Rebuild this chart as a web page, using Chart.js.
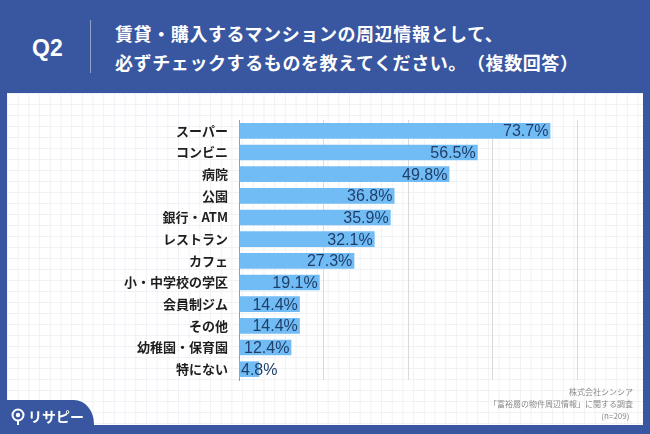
<!DOCTYPE html>
<html lang="ja">
<head>
<meta charset="utf-8">
<script src="https://cdn.jsdelivr.net/npm/chart.js@4/dist/chart.umd.min.js"></script>
<style>
  html, body { margin: 0; padding: 0; }
  body { width: 650px; height: 434px; position: relative; overflow: hidden; background: #3857a0; font-family: "Noto Sans CJK JP", sans-serif; }
  .card { position: absolute; left: 7px; top: 93px; width: 636px; height: 332px; background-color: #fff;
    background-image: linear-gradient(to right, #f0f1f4 1px, transparent 1px), linear-gradient(to bottom, #f0f1f4 1px, transparent 1px);
    background-size: 10.7px 11px; }
  .q { position: absolute; left: 32px; top: 35px; color: #fff; font: bold 23px "Liberation Sans", Arial, sans-serif; }
  .sep { position: absolute; left: 90px; top: 20px; width: 1px; height: 53px; background: #8f9fca; }
  .title { position: absolute; left: 115px; top: 19px; color: #fff; font-weight: bold; font-size: 18px; line-height: 29px;
    white-space: nowrap; letter-spacing: 0.6px; text-spacing-trim: space-all; }
  .tab { position: absolute; left: 0; top: 400px; width: 94px; height: 34px; background: #3857a0; border-top-right-radius: 20px 24px; }
  .logo { position: absolute; left: 11px; top: 406px; color: #fff; font-size: 14px; font-weight: bold; display: flex; align-items: center; gap: 3px; }
  .src { position: absolute; right: 17px; top: 386px; color: #8a8a8a; font-size: 8px; line-height: 12px; text-align: right; }
  canvas { position: absolute; left: 0; top: 0; }
</style>
</head>
<body>
<div class="card"></div>
<div class="q">Q2</div>
<div class="sep"></div>
<div class="title">賃貸・購入するマンションの周辺情報として、<br>必ずチェックするものを教えてください。（複数回答）</div>
<canvas id="myChart" width="650" height="434"></canvas>
<div class="src">株式会社シンシア<br>「富裕層の物件周辺情報」に関する調査<br>(n=209)&nbsp;&nbsp;</div>
<div class="tab"></div>
<div class="logo">
  <svg width="14" height="17" viewBox="0 0 14 17"><circle cx="7" cy="7" r="5.5" fill="none" stroke="#fff" stroke-width="2"/><circle cx="7" cy="7" r="2.2" fill="#fff"/><rect x="6" y="12" width="2" height="5" fill="#fff"/></svg>
  <span>リサピー</span>
</div>
<script>
var categories = ['スーパー', 'コンビニ', '病院', '公園', '銀行・ATM', 'レストラン', 'カフェ', '小・中学校の学区', '会員制ジム', 'その他', '幼稚園・保育園', '特にない'];
var values = [73.7, 56.5, 49.8, 36.8, 35.9, 32.1, 27.3, 19.1, 14.4, 14.4, 12.4, 4.8];
var xTicks = [0, 20, 40, 60, 80];

// バーの右端に数値を表示
var valueLabels = {
    id: 'valueLabels',
    afterDatasetsDraw: function (chart) {
        var ctx = chart.ctx;
        var meta = chart.getDatasetMeta(0);
        ctx.save();
        ctx.font = '16px "Liberation Sans", Arial, sans-serif';
        ctx.fillStyle = '#1f3f69';
        ctx.textAlign = 'right';
        ctx.textBaseline = 'middle';
        meta.data.forEach(function (bar, i) {
            var text = values[i].toFixed(1) + '%';
            var w = ctx.measureText(text).width;
            var x = Math.max(bar.x - 2, chart.chartArea.left + 2 + w);
            ctx.fillText(text, x, bar.y + 1);
        });
        ctx.restore();
    }
};

var ctx = document.getElementById('myChart').getContext('2d');
var myChart = new Chart(ctx, {
    type: 'bar',
    data: {
        labels: categories,
        datasets: [{
            data: values,
            backgroundColor: '#72bcf6',
            barPercentage: 0.72,
            categoryPercentage: 1
        }]
    },
    options: {
        indexAxis: 'y',
        responsive: false,
        animation: false,
        devicePixelRatio: 1,
        layout: { padding: { left: 0, top: 120, right: 73, bottom: 54 } },
        plugins: { legend: { display: false }, tooltip: { enabled: false } },
        scales: {
            x: {
                min: 0,
                max: 80,
                afterBuildTicks: function (scale) {
                    scale.ticks = xTicks.map(function (v) { return { value: v }; });
                },
                afterFit: function (scale) { scale.height = 0; },
                ticks: { display: false },
                grid: { color: '#dadada', lineWidth: 1, drawTicks: false },
                border: { display: false }
            },
            y: {
                afterFit: function (scale) { scale.width = 239; },
                ticks: {
                    color: '#1e1e1e',
                    padding: 11,
                    font: { family: '"Noto Sans CJK JP", sans-serif', size: 13, weight: 'bold' }
                },
                grid: { display: false, drawTicks: false },
                border: { display: true, color: '#9a9a9a', width: 1 }
            }
        }
    },
    plugins: [valueLabels]
});
</script>
</body>
</html>
